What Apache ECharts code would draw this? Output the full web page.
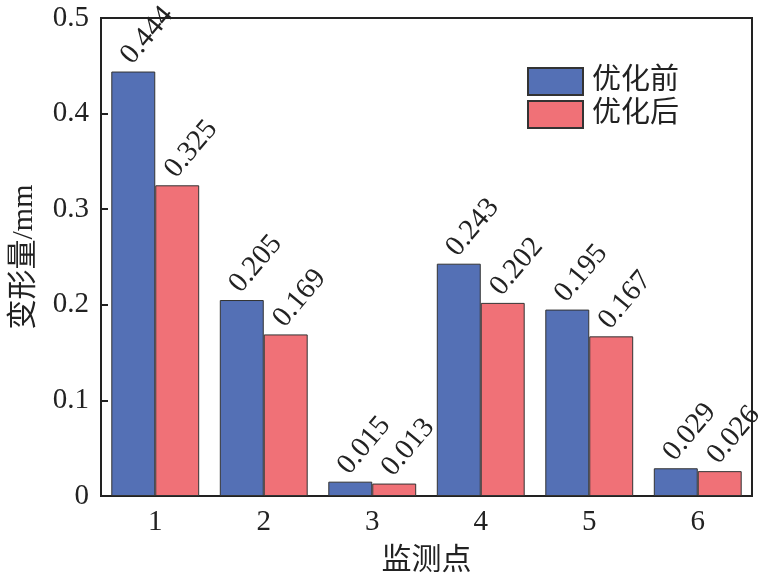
<!DOCTYPE html>
<html>
<head>
<meta charset="utf-8">
<script src="https://cdn.jsdelivr.net/npm/echarts@6/dist/echarts.min.js"></script>
<style>
html, body { margin: 0; padding: 0; background: #fff; }
#main { width: 772px; height: 581px; }
</style>
</head>
<body>
<div id="main"></div>
<script>
var points = ['1', '2', '3', '4', '5', '6'];
var before = [0.444, 0.205, 0.015, 0.243, 0.195, 0.029];
var after = [0.325, 0.169, 0.013, 0.202, 0.167, 0.026];
var seriesNames = ['优化前', '优化后'];

var serif = '"Liberation Serif", "Noto Sans CJK SC", serif';

var myChart = echarts.init(document.getElementById('main'));

function barLabel() {
	return {
		show: true,
		position: 'top',
		distance: 0,
		offset: [4, 2],
		rotate: 50,
		align: 'left',
		verticalAlign: 'bottom',
		fontFamily: serif,
		fontSize: 29,
		color: '#222',
		formatter: function (p) { return p.value.toFixed(3); }
	};
}

var option = {
	animation: false,
	grid: { left: 101, right: 20, top: 18, bottom: 85, containLabel: false, outerBoundsMode: 'none' },
	legend: {
		data: seriesNames,
		orient: 'vertical',
		left: 522,
		top: 62,
		icon: 'rect',
		itemWidth: 55,
		itemHeight: 27,
		itemGap: 4,
		textStyle: { fontFamily: serif, fontSize: 29, color: '#222', padding: [0, 0, 0, 4] }
	},
	xAxis: {
		type: 'category',
		data: points,
		name: '监测点',
		nameLocation: 'middle',
		nameGap: 50,
		nameTextStyle: { fontFamily: serif, fontSize: 30, color: '#222' },
		axisLine: { lineStyle: { color: '#222', width: 2 } },
		axisTick: { inside: true, alignWithLabel: true, length: 5, lineStyle: { color: '#222', width: 2 } },
		axisLabel: { fontFamily: serif, fontSize: 29, color: '#222', margin: 12 }
	},
	yAxis: {
		type: 'value',
		min: 0,
		max: 0.5,
		interval: 0.1,
		name: '变形量/mm',
		nameLocation: 'middle',
		nameGap: 62,
		nameTextStyle: { fontFamily: serif, fontSize: 30, color: '#222' },
		axisLine: { show: true, lineStyle: { color: '#222', width: 2 } },
		axisTick: { show: true, inside: true, length: 7, lineStyle: { color: '#222', width: 2 } },
		axisLabel: { fontFamily: serif, fontSize: 29, color: '#222', margin: 12 },
		splitLine: { show: false }
	},
	series: [{
		name: seriesNames[0],
		type: 'bar',
		data: before,
		barGap: '0%',
		barCategoryGap: '19%',
		itemStyle: { color: '#5470b5', borderColor: '#333', borderWidth: 1 },
		label: barLabel()
	}, {
		name: seriesNames[1],
		type: 'bar',
		data: after,
		itemStyle: { color: '#f07177', borderColor: '#333', borderWidth: 1 },
		label: barLabel()
	}],
	graphic: [{
		type: 'rect',
		shape: { x: 101, y: 18, width: 651, height: 478 },
		style: { fill: 'none', stroke: '#222', lineWidth: 2 },
		silent: true
	}]
};
myChart.setOption(option);
</script>
</body>
</html>
